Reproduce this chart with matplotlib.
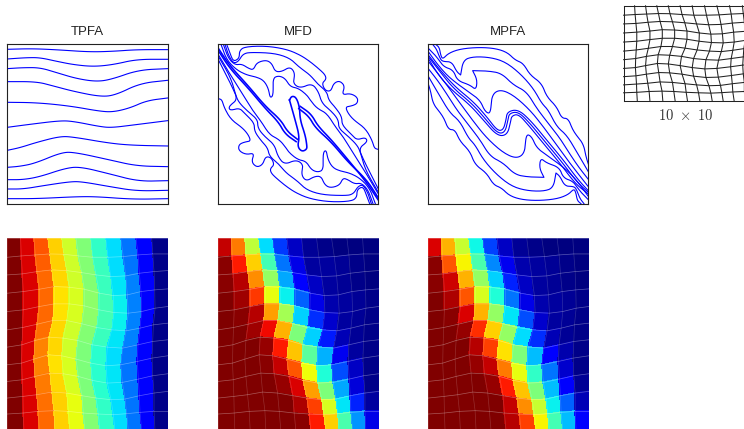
#!/bin/python3
"""----------------------------------------------------------------------------
pressure contours and saturation on a rough 2D mesh : TPFA / MFD / MPFA
----------------------------------------------------------------------------"""

import numpy as np
import matplotlib.pyplot as plt

# mesh nodes-------------------------------------------------------------------
mesh_x = [
    [22, 62, 102, 143, 185, 228, 272, 317, 362, 408, 455, 503],
    [22, 64, 106, 149, 191, 235, 278, 324, 370, 414, 458, 503],
    [22, 67, 111, 155, 200, 245, 288, 332, 377, 418, 462, 503],
    [22, 70, 118, 163, 208, 253, 298, 340, 382, 423, 464, 503],
    [22, 70, 118, 163, 208, 253, 297, 342, 385, 425, 465, 503],
    [22, 68, 112, 158, 200, 246, 290, 335, 378, 420, 460, 503],
    [22, 66, 105, 148, 190, 233, 277, 322, 368, 414, 458, 503],
    [22, 65, 102, 145, 185, 228, 272, 318, 362, 412, 456, 503],
    [22, 67, 105, 150, 190, 235, 277, 322, 367, 415, 458, 503],
    [22, 69, 110, 155, 200, 246, 288, 333, 375, 418, 462, 503],
    [22, 70, 115, 162, 205, 250, 295, 340, 380, 420, 462, 503],
    [22, 72, 118, 165, 210, 255, 300, 345, 385, 425, 465, 503],
]
mesh_y = [
    [25, 25, 25, 25, 25, 25, 25, 25, 25, 25, 25, 25],
    [82, 78, 75, 72, 73, 78, 82, 82, 80, 75, 72, 72],
    [135, 132, 125, 120, 122, 128, 135, 140, 138, 130, 125, 122],
    [190, 185, 178, 170, 172, 178, 190, 197, 195, 185, 180, 177],
    [245, 240, 230, 222, 222, 228, 240, 248, 250, 245, 235, 230],
    [300, 293, 283, 272, 272, 282, 293, 300, 303, 295, 285, 280],
    [352, 345, 332, 322, 325, 332, 345, 352, 355, 345, 335, 330],
    [405, 400, 388, 375, 378, 388, 400, 408, 405, 395, 385, 378],
    [455, 450, 440, 430, 432, 440, 452, 460, 458, 448, 438, 432],
    [505, 500, 495, 487, 490, 498, 505, 510, 508, 498, 490, 485],
    [553, 550, 545, 543, 545, 550, 553, 555, 552, 548, 545, 545],
    [604, 604, 604, 604, 604, 604, 604, 604, 604, 604, 604, 604],
]

# saturation per cell----------------------------------------------------------
tpfa_vals = [
    [1.0, .92, .82, .69, .60, .505, .41, .34, .24, .12, .01],
    [1.0, .92, .81, .69, .60, .51, .42, .34, .24, .12, .01],
    [1.0, .92, .80, .68, .60, .51, .42, .35, .25, .12, .01],
    [1.0, .92, .80, .67, .61, .52, .43, .36, .25, .11, .01],
    [1.0, .92, .80, .67, .61, .52, .43, .36, .25, .11, .01],
    [1.0, .92, .79, .68, .60, .51, .42, .35, .25, .11, .01],
    [1.0, .92, .77, .68, .60, .50, .40, .34, .24, .11, .01],
    [1.0, .92, .77, .67, .61, .50, .40, .35, .24, .11, .01],
    [1.0, .92, .78, .68, .61, .50, .40, .35, .24, .11, .01],
    [1.0, .92, .79, .69, .63, .51, .41, .34, .24, .11, .01],
    [1.0, .92, .80, .69, .63, .51, .41, .34, .24, .11, .01],
]
mfd_vals = [
    [.94, .78, .58, .34, .18, .06, .02, .01, 0, 0, 0],
    [.99, .88, .69, .43, .24, .09, .03, .03, .02, .01, 0],
    [.99, .95, .76, .53, .29, .12, .06, .03, .02, .01, 0],
    [1, .97, .85, .63, .36, .22, .09, .04, .03, .02, .01],
    [1, .99, .95, .74, .55, .33, .17, .07, .03, .02, .01],
    [1, 1, .97, .90, .72, .50, .33, .15, .05, .02, .01],
    [1, 1, 1, .98, .88, .70, .46, .30, .10, .03, .01],
    [1, 1, 1, .99, .94, .82, .64, .39, .20, .06, .01],
    [1, 1, 1, 1, .98, .92, .74, .50, .29, .08, .01],
    [1, 1, 1, 1, 1, .96, .84, .61, .35, .16, .03],
    [1, 1, 1, 1, 1, .99, .88, .69, .44, .27, .09],
]
mpfa_vals = [
    [.92, .72, .59, .37, .19, .06, .02, .01, 0, 0, 0],
    [.99, .82, .65, .44, .26, .10, .04, .03, .02, .01, 0],
    [.99, .93, .72, .53, .33, .16, .06, .03, .02, .01, 0],
    [1, .96, .82, .61, .39, .24, .09, .04, .03, .02, .01],
    [1, .99, .92, .72, .53, .35, .20, .07, .03, .02, .01],
    [1, 1, .98, .86, .69, .53, .34, .17, .05, .02, .01],
    [1, 1, 1, .95, .84, .67, .50, .31, .12, .04, .01],
    [1, 1, 1, .98, .94, .78, .63, .41, .24, .07, .01],
    [1, 1, 1, 1, .98, .88, .70, .50, .31, .12, .02],
    [1, 1, 1, 1, 1, .94, .76, .59, .36, .22, .05],
    [1, 1, 1, 1, 1, .95, .84, .65, .43, .31, .12],
]

# pressure contour lines-------------------------------------------------------
tpfa_lines = [
    [(22,88),(100,86),(180,90),(270,96),(340,94),(410,89),(503,89)],
    [(22,117),(80,113),(120,113),(170,124),(220,134),(280,140),(340,134),(410,118),(503,118)],
    [(22,146),(70,143),(120,143),(170,158),(230,176),(290,185),(335,178),(415,150),(503,146)],
    [(22,185),(110,185),(160,198),(220,214),(300,230),(345,226),(420,190),(503,181)],
    [(22,247),(110,248),(210,258),(300,274),(340,276),(390,264),(440,242),(503,234)],
    [(22,322),(90,313),(180,302),(220,304),(300,320),(335,323),(400,315),(503,302)],
    [(22,391),(60,383),(110,367),(180,349),(220,351),(330,370),(400,376),(503,378)],
    [(22,442),(60,439),(105,430),(185,397),(225,397),(330,420),(410,438),(503,440)],
    [(22,479),(70,479),(120,470),(195,445),(240,440),(330,462),(415,484),(503,482)],
    [(22,507),(70,507),(130,497),(210,485),(245,485),(330,500),(410,513),(503,511)],
    [(22,536),(110,536),(230,530),(290,530),(400,538),(503,536)],
]
mfd_lines = [
    [(50,73),(60,100),(70,125),(88,115),(88,92),(105,80),(170,78),(230,88),(270,105),(300,125),(330,150),(345,165),(348,178),(335,190),(345,212),(362,214),(370,190),(388,182),(404,198),(395,225),(420,220),(442,232),(442,250),(425,258),(406,260),(412,278),(430,300),(465,325),(485,360),(492,385),(503,388)],
    [(45,73),(55,105),(70,130),(85,125),(100,100),(130,97),(195,100),(240,115),(265,140),(300,165),(320,190),(350,215),(355,240),(375,262),(395,290),(395,315),(425,345),(440,360),(465,352),(472,365),(445,385),(460,420),(480,460),(503,505)],
    [(40,73),(55,115),(75,135),(95,132),(115,145),(130,150),(140,128),(168,120),(185,130),(195,155),(215,155),(240,140),(255,160),(248,190),(270,205),(305,190),(325,215),(335,250),(365,275),(385,300),(385,325),(415,350),(440,375),(450,395),(465,450),(503,515)],
    [(33,73),(50,120),(80,150),(110,165),(135,170),(160,180),(175,205),(180,235),(190,225),(188,175),(205,167),(225,175),(240,200),(265,205),(290,225),(300,240),(320,265),(350,280),(375,320),(395,345),(420,385),(455,440),(503,520)],
    [(25,85),(60,138),(115,198),(165,258),(212,300),(232,335),(262,358)],
    [(25,92),(60,146),(115,205),(165,265),(205,306),(225,342),(258,365)],
    [(238,240),(255,300),(268,350),(262,380),(275,395),(290,388),(290,375),(285,345),(270,300),(268,260),(258,232),(245,228),(238,240)],
    [(503,532),(468,478),(413,426),(363,366),(316,324),(296,289),(266,266)],
    [(503,539),(468,486),(413,419),(363,359),(323,318),(303,282),(270,259)],
    [(495,551),(478,504),(448,474),(418,459),(393,454),(368,444),(353,419),(348,389),(338,399),(340,449),(323,457),(303,449),(288,424),(263,419),(238,399),(228,384),(208,359),(178,344),(153,304),(133,279),(108,239),(73,184),(25,104)],
    [(488,551),(473,509),(453,489),(433,492),(413,479),(398,474),(388,496),(360,504),(343,494),(333,469),(313,469),(288,484),(273,464),(280,434),(258,419),(223,434),(203,409),(193,374),(163,349),(143,324),(143,299),(113,274),(88,249),(78,229),(63,174),(25,109)],
    [(483,551),(473,519),(458,494),(443,499),(428,524),(398,527),(333,524),(288,509),(263,484),(228,459),(208,434),(178,409),(173,384),(153,362),(133,334),(133,309),(103,279),(88,264),(60,272),(56,259),(83,239),(68,204),(48,164),(25,119)],
    [(478,551),(468,524),(458,499),(440,509),(440,532),(423,544),(358,546),(298,536),(258,519),(228,499),(198,474),(183,459),(180,446),(193,434),(183,412),(166,410),(158,434),(140,442),(124,426),(133,399),(108,404),(86,392),(86,374),(103,366),(122,364),(116,346),(98,324),(63,299),(43,264),(36,239),(25,236)],
]
mpfa_lines = [
    [(47,73),(58,82),(62,105),(68,118),(85,100),(120,87),(175,82),(225,85),(262,97),(285,120),(310,130),(330,165),(365,190),(380,230),(410,260),(425,295),(445,295),(460,335),(490,370),(498,410),(505,432)],
    [(38,73),(50,88),(60,115),(68,125),(95,125),(110,155),(122,165),(122,165),(130,120),(160,110),(210,112),(255,125),(300,160),(340,205),(365,250),(385,270),(410,320),(440,345),(470,395),(505,455)],
    [(25,85),(50,110),(70,140),(100,150),(112,182),(150,195),(168,210),(172,180),(158,152),(158,152),(205,153),(245,160),(280,195),(320,215),(350,265),(385,310),(420,355),(445,395),(475,440),(505,478)],
    [(25,95),(50,130),(80,165),(110,190),(145,215),(180,240),(195,275),(212,282),(215,225),(240,208),(280,225),(330,270),(370,320),(410,375),(450,430),(505,500)],
    [(25,105),(60,150),(105,200),(160,245),(200,290),(232,332),(250,330),(258,300),(262,275),(295,268),(335,305),(380,360),(430,420),(475,480),(505,512)],
    [(25,110),(60,155),(100,205),(155,250),(195,295),(232,340),(255,338),(264,300),(268,280),(295,275),(330,310),(375,365),(425,425),(470,485),(505,517)],
    [(25,115),(55,165),(95,210),(150,255),(190,300),(232,348),(262,345),(272,305),(275,288),(295,282),(325,315),(370,370),(420,430),(465,490),(505,522)],
    [(505,529),(480,494),(450,459),(420,434),(385,409),(350,384),(335,349),(318,342),(315,399),(290,416),(250,399),(200,354),(160,304),(120,249),(80,194),(25,124)],
    [(505,539),(480,514),(460,484),(430,474),(418,442),(380,429),(362,414),(358,444),(372,472),(372,472),(325,471),(285,464),(250,429),(210,409),(180,359),(145,314),(110,269),(85,229),(55,184),(25,146)],
    [(492,551),(480,536),(470,509),(462,499),(435,499),(420,469),(408,459),(408,459),(400,504),(370,514),(320,512),(275,499),(230,464),(190,419),(165,374),(145,354),(120,304),(90,279),(60,229),(25,169)],
    [(483,551),(472,542),(468,519),(462,506),(445,524),(410,537),(355,542),(305,539),(268,527),(245,504),(220,494),(200,459),(165,434),(150,394),(120,364),(105,329),(85,329),(70,289),(40,254),(32,214),(25,192)],
]

titles = ["TPFA", "MFD", "MPFA"]
mesh_label = r"$10\ \times\ 10$"

# plotting---------------------------------------------------------------------
W, H = 744, 429
plt.rcParams['font.family'] = ['Liberation Sans', 'DejaVu Sans']
plt.rcParams['mathtext.fontset'] = 'cm'

fig = plt.figure(figsize=(W/100, H/100), dpi=100)

def px_axes(left, top, right, bottom):
    return fig.add_axes([left/W, 1-bottom/H, (right-left)/W, (bottom-top)/H])

# corner cutting so the read-off polylines draw round
def rounded(pts, passes=3):
    for _ in range(passes):
        q = 0.75*pts[:-1] + 0.25*pts[1:]
        r = 0.25*pts[:-1] + 0.75*pts[1:]
        mid = np.empty((2*len(q), 2))
        mid[0::2] = q
        mid[1::2] = r
        pts = np.vstack([pts[0], mid, pts[-1]])
    return pts

X = np.array(mesh_x)
Y = np.array(mesh_y)

# top row : contours
top_boxes = [(7.3, 167.7, 22, 503), (218.3, 378.0, 25, 503), (428.3, 588.3, 25, 505)]
all_lines = [tpfa_lines, mfd_lines, mpfa_lines]
for box, lines, title in zip(top_boxes, all_lines, titles):
    ax = px_axes(box[0], 44.3, box[1], 204.0)
    for k, line in enumerate(lines):
        pts = rounded(np.array(line, dtype=float))
        # the middle band of MFD is drawn heavier
        lw = 1.15 if (lines is mfd_lines and 4 <= k <= 8) else 0.8
        ax.plot(pts[:,0], pts[:,1], color='#0000ff', lw=lw, solid_joinstyle='round')
    ax.set_xlim(box[2], box[3])
    ax.set_ylim(552, 73)
    ax.set_xticks([])
    ax.set_yticks([])
    for sp in ax.spines.values():
        sp.set_linewidth(0.8)
        sp.set_color('#222222')
    ax.set_title(title, fontsize=9.5, color='#222222', pad=7)

# bottom row : saturation on mesh
bottom_lefts = [7.3, 218.2, 428.4]
all_vals = [tpfa_vals, mfd_vals, mpfa_vals]
for left, vals in zip(bottom_lefts, all_vals):
    ax = px_axes(left, 238.3, left+160.4, 431.0)
    ax.pcolormesh(X, Y, np.array(vals), cmap='jet', vmin=0, vmax=1, shading='flat',
                  edgecolors='face', linewidth=0.3)
    for i in range(X.shape[0]):
        ax.plot(X[i,:], Y[i,:], color='white', alpha=0.35, lw=0.5)
    for j in range(X.shape[1]):
        ax.plot(X[:,j], Y[:,j], color='white', alpha=0.18, lw=0.5)
    ax.set_xlim(22, 503)
    ax.set_ylim(604, 25)
    ax.axis('off')

# the mesh itself
ax = px_axes(623.6, 5.8, 755.6, 101.2)
for i in range(X.shape[0]):
    ax.plot(X[i,:], Y[i,:], color='#222222', lw=0.75, clip_on=False)
for j in range(X.shape[1]):
    ax.plot(X[:,j], Y[:,j], color='#222222', lw=0.75, clip_on=False)
ax.set_xlim(22, 503)
ax.set_ylim(604, 25)
ax.axis('off')
fig.text(686/W, 1-116/H, mesh_label, fontsize=10.5, color='#333333', ha='center', va='center')

plt.savefig("out.png", dpi=100)
